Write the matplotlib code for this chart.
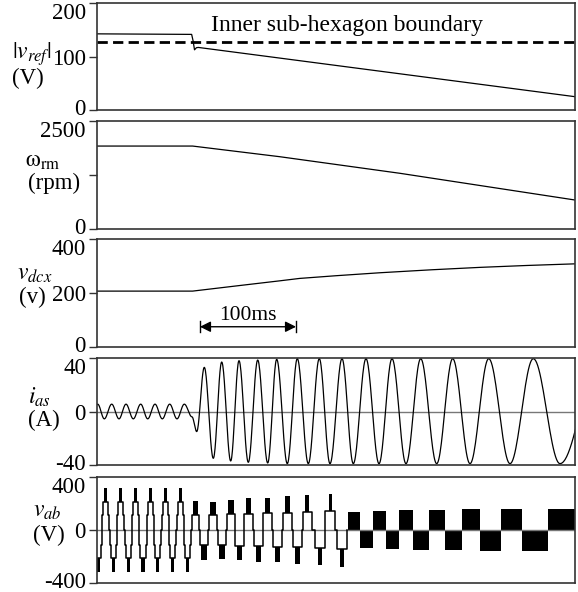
import numpy as np
import matplotlib
matplotlib.use("Agg")
import matplotlib.pyplot as plt
from matplotlib.transforms import ScaledTranslation

plt.rcParams["font.family"] = "Liberation Serif"
plt.rcParams["mathtext.fontset"] = "stix"
plt.rcParams["axes.unicode_minus"] = False

# ---- values (time in ms) ----
vref_t = [0, 99, 100.5, 102, 104, 106, 500]
vref = [143, 142, 130, 113, 117, 117.5, 25]
boundary = 127

wrm_t = [0, 100, 191, 317, 500]
wrm = [1920, 1920, 1674, 1289, 671]

vdcx_t = [0, 100, 150, 191, 212, 250, 296, 350, 401, 450, 500]
vdcx = [207, 207, 228, 245, 254, 264, 275, 286, 295, 302, 308]

# i_as: times and values of the turning points
ias_t = [0, 0.73, 7.64, 15.38, 23.01, 30.33, 37.97, 45.71, 53.03, 60.67, 68.31,
         76.05, 83.68, 91.32, 99.37, 104.29, 112.24, 121.65, 130.44, 139.85,
         148.54, 158.27, 168.10, 178.56, 187.97, 199.06, 209.52, 221.03, 232.53,
         243.72, 256.28, 268.10, 281.38, 294.98, 308.58, 323.22, 338.60, 355.33,
         372.07, 390.17, 409.73, 432.01, 456.38, 484.31, 526.15]
ias = [5.2, 5.5, -5.5, 5.5, -5.5, 5.5, -5.5, 5.5, -5.5, 5.5, -5.5,
       5.5, -5.5, 5.5, -4, -15, 33, -35, 37, -37,
       38, -38, 38.5, -38.5, 39, -39, 39.5, -39, 39.5,
       -39, 39.5, -39, 39.5, -39, 39.5, -39, 39.5, -39,
       39.5, -39, 39.5, -39, 39.5, -39, 39.5]

# v_ab, stage 1: two-step staircase, PWM between 2nd step and peak
vab1_t = [1.36, 9.10, 16.95, 24.79, 32.53, 40.27, 48.12, 55.86, 63.70,
          71.44, 79.29, 87.03, 94.87]
vab1_sign = [-1, 1, -1, 1, -1, 1, -1, 1, -1, 1, -1, 1, -1]
vab1_steps = [110, 210]
vab1_step_w = [7.4, 5.4]
vab1_peak = [315, 315, 315, 315, 315, 315, 315, 315, 315, 315, 315, 315, 320]
vab1_bar_w = 3.3

# v_ab, stage 2: one step, PWM between step and peak
vab2_t = [103.0, 111.9, 121.6, 130.5, 139.9, 149.0, 158.4, 168.9, 178.3,
          188.8, 199.2, 209.7, 220.1, 233.3, 244.1, 256.6]
vab2_step = [113, -113, 113, -113, 118, -118, 122, -122, 126, -126,
             132, -132, 138, -138, 143, -143]
vab2_peak = [219, -226, 214, -221, 226, -226, 239, -239, 239, -245,
             257, -257, 264, -264, 272, -277]
vab2_step_w = [8.2, 8.2, 8.4, 8.4, 8.6, 8.6, 8.8, 8.8, 9.0, 9.0,
               9.4, 9.4, 9.8, 9.8, 10.2, 10.2]
vab2_bar_w = [6.2, 6.2, 6.0, 6.0, 5.8, 5.8, 5.5, 5.5, 5.2, 5.2,
              4.8, 4.8, 4.3, 4.3, 3.8, 3.8]

# v_ab, stage 3: PWM blocks between 0 and a level
vab3_edges = [262.9, 275.1, 288.4, 302.3, 316.2, 330.8, 347.0, 363.7,
              382.1, 400.6, 422.3, 444.2, 472.1, 500]
vab3_level = [138, -138, 146, -146, 151, -151, 151, -151, 156, -156,
              156, -156, 156]


def through_turns(tp, vp, n=24):
    t_out, v_out = [], []
    for i in range(len(tp) - 1):
        s = np.linspace(0, 1, n, endpoint=False)
        t_out.extend(tp[i] + (tp[i + 1] - tp[i]) * s)
        v_out.extend(vp[i] + (vp[i + 1] - vp[i]) * (1 - np.cos(np.pi * s)) / 2)
    t_out.append(tp[-1])
    v_out.append(vp[-1])
    return t_out, v_out


def staircase(tc, levels, widths):
    left_t, left_v = [], []
    prev = 0
    for lv, w in zip(levels, widths):
        left_t += [tc - w / 2, tc - w / 2]
        left_v += [prev, lv]
        prev = lv
    right_t = [2 * tc - x for x in left_t[::-1]]
    right_v = left_v[::-1]
    return left_t + right_t, left_v + right_v


fig = plt.figure(figsize=(5.78, 5.92), dpi=100)
W, H = 578, 592
boxes = [(3.5, 110), (121, 229), (239, 347), (358, 465), (477, 583)]
axes = []
for top, bot in boxes:
    ax = fig.add_axes([97 / W, 1 - bot / H, (575 - 97) / W, (bot - top) / H])
    ax.set_xlim(0, 500)
    ax.set_xticks([])
    for sp in ax.spines.values():
        sp.set_linewidth(1.2)
        sp.set_color("#333333")
    ax.tick_params(axis="y", direction="out", length=6, width=1, pad=2,
                   labelsize=16.5, color="#333333")
    axes.append(ax)

lw = 0.9

# |v_ref|
ax = axes[0]
ax.plot(vref_t, vref, color="k", lw=lw)
ax.axhline(boundary, color="k", lw=2, ls=(0, (3.7, 1.9)))
ax.text(119.3, 158, "Inner sub-hexagon boundary", fontsize=17, va="center", ha="left")
ax.set_ylim(0, 200)
ax.set_yticks([0, 100, 200])

# speed
ax = axes[1]
ax.plot(wrm_t, wrm, color="k", lw=lw)
ax.set_ylim(0, 2500)
ax.set_yticks([0, 1250, 2500])
ax.set_yticklabels(["0", "", "2500"])

# v_dcx
ax = axes[2]
ax.plot(vdcx_t, vdcx, color="k", lw=lw)
ax.set_ylim(0, 400)
ax.set_yticks([0, 200, 400])
ax.annotate("", xy=(208.2, 75), xytext=(107.7, 75),
            arrowprops=dict(arrowstyle="<|-|>", color="k", lw=1, mutation_scale=16,
                            shrinkA=0, shrinkB=0))
ax.plot([107.7, 107.7], [57, 97], color="k", lw=1)
ax.plot([208.2, 208.2], [57, 97], color="k", lw=1)
ax.text(158.3, 118, "100ms", fontsize=15.5, ha="center", va="center")

# i_as
ax = axes[3]
it, iv = through_turns(ias_t, ias)
ax.axhline(0, color="#777777", lw=1)
ax.plot(it, iv, color="k", lw=lw)
ax.set_ylim(-40, 40)
ax.set_yticks([-40, 0, 40])

# v_ab
ax = axes[4]
ax.axhline(0, color="#777777", lw=1)
line_t, line_v = [], []
for tc, sg, pk in zip(vab1_t, vab1_sign, vab1_peak):
    st, sv = staircase(tc, [sg * l for l in vab1_steps], vab1_step_w)
    line_t += st
    line_v += sv
    ax.bar(tc, sg * (pk - vab1_steps[-1]), bottom=sg * vab1_steps[-1],
           width=vab1_bar_w, color="k", lw=0)
for tc, stp, pk, sw, bw in zip(vab2_t, vab2_step, vab2_peak, vab2_step_w, vab2_bar_w):
    st, sv = staircase(tc, [stp], [sw])
    line_t += st
    line_v += sv
    ax.bar(tc, pk - stp, bottom=stp, width=bw, color="k", lw=0)
ax.plot(line_t, line_v, color="k", lw=1.1)
ax.bar(vab3_edges[:-1], vab3_level, width=np.diff(vab3_edges), align="edge",
       color="k", lw=0)
ax.set_ylim(-400, 400)
ax.set_yticks([-400, 0, 400])

# tick label placement: top label hangs below its tick, bottom one sits a bit up
for ax in axes:
    ticks = ax.yaxis.get_major_ticks()
    ticks[-1].label1.set_va("top")
    lab0 = ticks[0].label1
    lab0.set_transform(lab0.get_transform() +
                       ScaledTranslation(0, 2.5 / 100, fig.dpi_scale_trans))


def lab(x, y, s, size=16.5):
    fig.text(x / W, 1 - y / H, s, fontsize=size, ha="center", va="center")


lab(32, 54, r"$|v_{ref}|$", 17)
lab(28, 78, "(V)")
lab(43, 161, r"$\mathrm{\omega}_{\mathrm{rm}}$", 17)
lab(54, 183, "(rpm)")
lab(35, 275, r"$v_{dcx}$", 17)
lab(32, 297, "(v)")
lab(39, 397, r"$i_{as}$", 17)
lab(44, 420, "(A)")
lab(47, 511, r"$v_{ab}$", 17)
lab(49, 535, "(V)")

fig.savefig("out.png", dpi=100)
